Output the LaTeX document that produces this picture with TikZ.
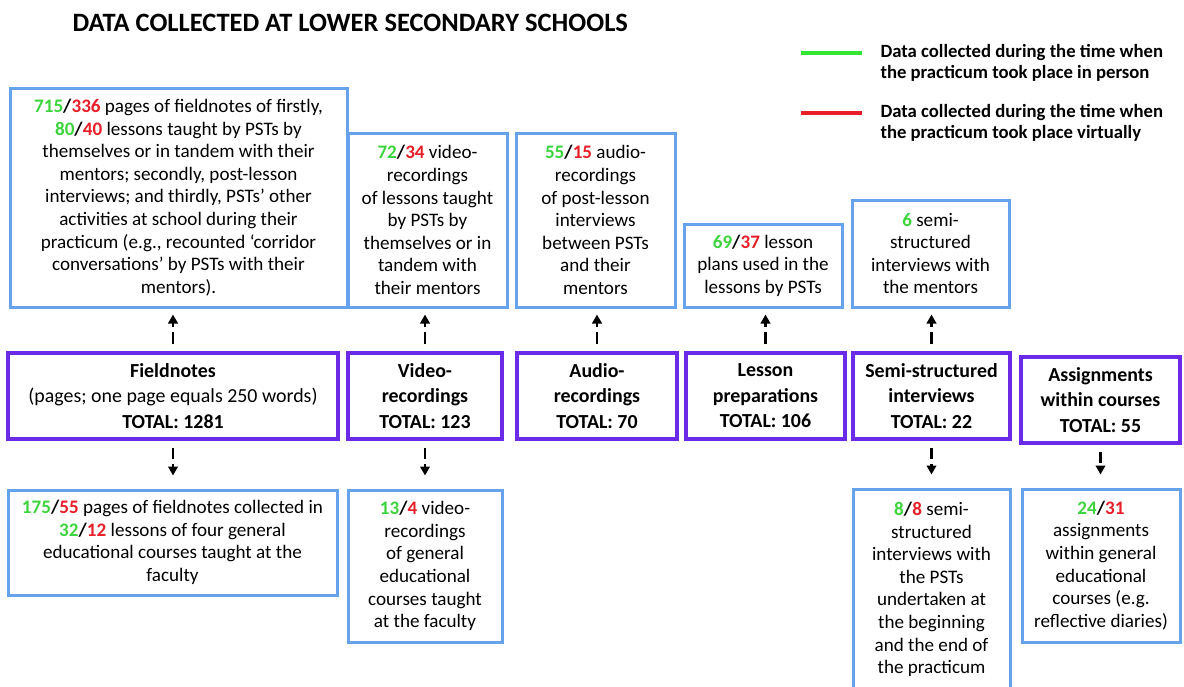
\documentclass[tikz,border=0pt]{standalone}
\usepackage{fontspec}
\setmainfont{Carlito}
\usetikzlibrary{arrows.meta}

\definecolor{boxblue}{HTML}{66A3EC}
\definecolor{boxpurple}{HTML}{6A2AE8}
\definecolor{numgreen}{HTML}{3CD43C}
\definecolor{numred}{HTML}{E81E28}
\definecolor{keygreen}{HTML}{33E633}

\newcommand{\gn}[1]{\textcolor{numgreen}{\textbf{#1}}}
\newcommand{\rn}[1]{\textcolor{numred}{\textbf{#1}}}
\newcommand{\numpair}[2]{\gn{#1}\textbf{/}\rn{#2}}

\tikzset{
  databox/.style={draw=boxblue, line width=3pt, align=center, inner sep=0pt,
    font=\fontsize{19.1}{22.6}\selectfont},
  sumbox/.style={draw=boxpurple, line width=3.5pt, align=center, inner sep=0pt,
    font=\fontsize{19.9}{25.5}\selectfont\bfseries},
  uplink/.style={line width=2.8pt, dash pattern=on 12pt off 5pt,
    -{Triangle[length=9pt,width=9.5pt]}, shorten <=7pt, shorten >=6pt},
  downlink/.style={line width=2.8pt, dash pattern=on 11pt off 5pt,
    -{Triangle[length=9pt,width=9.5pt]}, shorten <=7pt, shorten >=13pt},
  keytext/.style={anchor=west, align=left, font=\fontsize{18.7}{21.7}\selectfont\bfseries}
}

\begin{document}
\begin{tikzpicture}[x=1pt, y=-1pt]
  \useasboundingbox (0,0) rectangle (1184,686);

  % Title
  \node[anchor=west, font=\fontsize{26.5}{30}\selectfont\bfseries] (title) at (69,23)
    {DATA COLLECTED AT LOWER SECONDARY SCHOOLS};

  % Legend
  \coordinate (g1) at (801,53);
  \coordinate (g2) at (862,53);
  \coordinate (r1) at (801,113);
  \coordinate (r2) at (862,113);
  \draw[keygreen, line width=4pt] (g1) -- (g2);
  \draw[numred, line width=4pt] (r1) -- (r2);
  \node[keytext] (ingreen) at (877,63) {Data collected during the time when\\the practicum took place in person};
  \node[keytext] (inred) at (877,123) {Data collected during the time when\\the practicum took place virtually};

  % Top row
  \node[databox, minimum width=337pt, minimum height=219pt] (t1) at (178.5,197.5)
    {\numpair{715}{336} pages of fieldnotes of firstly,\\
     \numpair{80}{40} lessons taught by PSTs by\\
     themselves or in tandem with their\\
     mentors; secondly, post-lesson\\
     interviews; and thirdly, PSTs’ other\\
     activities at school during their\\
     practicum (e.g., recounted ‘corridor\\
     conversations’ by PSTs with their\\
     mentors).};
  \node[databox, minimum width=159pt, minimum height=174pt] (t2) at (427.5,220)
    {\numpair{72}{34} video-\\recordings\\of lessons taught\\by PSTs by\\themselves or in\\tandem with\\their mentors};
  \node[databox, minimum width=159pt, minimum height=174pt] (t3) at (595.5,220)
    {\numpair{55}{15} audio-\\recordings\\of post-lesson\\interviews\\between PSTs\\and their\\mentors};
  \node[databox, minimum width=158pt, minimum height=83pt] (t4) at (763,265.5)
    {\numpair{69}{37} lesson\\plans used in the\\lessons by PSTs};
  \node[databox, minimum width=157pt, minimum height=107pt] (t5) at (930.5,253.5)
    {\gn{6} semi-\\structured\\interviews with\\the mentors};

  % Middle row
  \node[sumbox, minimum width=330pt, minimum height=86pt] (m1) at (173,396)
    {Fieldnotes\\\mdseries(pages; one page equals 250 words)\\TOTAL: 1281};
  \node[sumbox, minimum width=154pt, minimum height=86pt] (m2) at (425,396)
    {Video-\\recordings\\TOTAL: 123};
  \node[sumbox, minimum width=160pt, minimum height=86pt] (m3) at (597,396)
    {Audio-\\recordings\\TOTAL: 70};
  \node[sumbox, minimum width=159pt, minimum height=86pt] (m4) at (765.5,396)
    {Lesson\\preparations\\TOTAL: 106};
  \node[sumbox, minimum width=157pt, minimum height=86pt] (m5) at (931.5,396)
    {Semi-structured\\interviews\\TOTAL: 22};
  \node[sumbox, minimum width=159pt, minimum height=86pt] (m6) at (1100.5,400)
    {Assignments\\within courses\\TOTAL: 55};

  % Bottom row
  \node[databox, minimum width=329pt, minimum height=105pt] (b1) at (172.5,542.5)
    {\numpair{175}{55} pages of fieldnotes collected in\\
     \numpair{32}{12} lessons of four general\\
     educational courses taught at the\\
     faculty};
  \node[databox, minimum width=154pt, minimum height=152pt] (b2) at (425,566)
    {\numpair{13}{4} video-\\recordings\\of general\\educational\\courses taught\\at the faculty};
  \node[databox, minimum width=157pt, minimum height=201pt] (b5) at (931.5,589.5)
    {\numpair{8}{8} semi-\\structured\\interviews with\\the PSTs\\undertaken at\\the beginning\\and the end of\\the practicum};
  \node[databox, minimum width=158pt, minimum height=153pt] (b6) at (1101,565.5)
    {\numpair{24}{31}\\assignments\\within general\\educational\\courses (e.g.\\reflective diaries)};

  % Arrows
  \foreach \k in {1,...,5}
    \draw[uplink] (m\k.north) -- (m\k.north |- t\k.south);
  \foreach \k in {1,2,5,6}
    \draw[downlink] (m\k.south) -- (m\k.south |- b\k.north);
\end{tikzpicture}
\end{document}
